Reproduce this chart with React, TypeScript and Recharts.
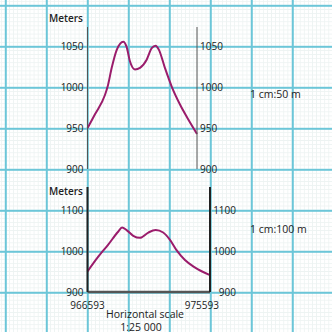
import React from "react";
import { LineChart, Line, XAxis, YAxis } from "recharts";

// Upper profile (vertical scale 1 cm : 50 m)
const upperDist = [0, 550, 1290, 1480, 1780, 2150, 2630, 2870, 3120, 3490, 3860, 4350, 4720, 5010, 5250, 5690, 6190, 6800, 7400, 8050];
const upperElev = [950, 967, 991, 1001, 1024, 1046, 1056, 1050, 1032, 1022, 1024, 1034, 1048, 1051, 1046, 1024, 1001, 979, 961, 943];
const upperTicks = [900, 950, 1000, 1050];

// Lower profile (vertical scale 1 cm : 100 m)
const lowerDist = [0, 790, 1510, 2250, 2540, 2870, 3360, 3860, 4470, 5010, 5560, 6060, 6540, 7160, 7880, 9000];
const lowerElev = [950, 986, 1015, 1047, 1057, 1051, 1037, 1032, 1045, 1051, 1045, 1027, 1002, 978, 960, 941];
const lowerTicks = [900, 1000, 1100];

const xTickValues = [0, 9000];
const xTickLabels = ["966593", "975593"];

const upperData = upperDist.map((x, i) => ({ x, m: upperElev[i] }));
const lowerData = lowerDist.map((x, i) => ({ x, m: lowerElev[i] }));

const FONT = "'Open Sans', 'Noto Sans', sans-serif";
const LINE = "#9a1c6b";
const tickStyle = { fontSize: 10, fill: "#222", fontFamily: FONT };

const BottomTick = (props: any) => {
  const { x, y, index } = props;
  const last = index === xTickValues.length - 1;
  return (
    <text
      x={x}
      y={y}
      dx={last ? 9 : 0}
      dy={8.5}
      textAnchor={last ? "end" : "middle"}
      fontSize={10}
      fill="#222"
      fontFamily={FONT}
    >
      {xTickLabels[index]}
    </text>
  );
};

export default function App() {
  const paper = {
    position: "absolute" as const,
    left: 0,
    top: 0,
    width: 332,
    height: 332,
    overflow: "hidden",
    backgroundColor: "#ffffff",
    backgroundImage: [
      "linear-gradient(to right, #6cc6d8 0, #6cc6d8 1.5px, transparent 1.5px)",
      "linear-gradient(to bottom, #6cc6d8 0, #6cc6d8 1.5px, transparent 1.5px)",
      "linear-gradient(to right, #edf3f2 0, #edf3f2 1px, transparent 1px)",
      "linear-gradient(to bottom, #edf3f2 0, #edf3f2 1px, transparent 1px)",
    ].join(","),
    backgroundSize: "41px 41px, 41px 41px, 4.1px 4.1px, 4.1px 4.1px",
    backgroundPosition: "4.8px 4.8px, 4.8px 4.8px, 5px 5px, 5px 5px",
  };

  return (
    <div style={paper}>
      <div style={{ position: "absolute", left: 0, top: 0 }}>
        <LineChart width={332} height={180} data={upperData} margin={{ top: 27, bottom: 11, left: 47.5, right: 95 }}>
          <XAxis
            dataKey="x"
            type="number"
            domain={[0, 8050]}
            tick={false}
            tickLine={false}
            height={0}
            axisLine={{ stroke: "#6a6a6a", strokeWidth: 1 }}
          />
          <YAxis
            yAxisId="l"
            type="number"
            domain={[900, 1074]}
            allowDataOverflow
            ticks={upperTicks}
            width={40}
            tickLine={false}
            tickSize={4}
            tickMargin={0}
            tick={tickStyle}
            axisLine={{ stroke: "#555", strokeWidth: 1 }}
          />
          <YAxis
            yAxisId="r"
            orientation="right"
            type="number"
            domain={[900, 1074]}
            allowDataOverflow
            ticks={upperTicks}
            width={40}
            tickLine={false}
            tickSize={3}
            tickMargin={0}
            tick={tickStyle}
            axisLine={{ stroke: "#555", strokeWidth: 1 }}
          />
          <Line yAxisId="l" type="monotone" dataKey="m" stroke={LINE} strokeWidth={2} dot={false} isAnimationActive={false} />
        </LineChart>
      </div>
      <div style={{ position: "absolute", left: 0, top: 180 }}>
        <LineChart width={332} height={152} data={lowerData} margin={{ top: 7, bottom: 10, left: 47.5, right: 82 }}>
          <XAxis
            dataKey="x"
            type="number"
            domain={[0, 9000]}
            ticks={xTickValues}
            tick={<BottomTick />}
            tickLine={false}
            height={30}
            axisLine={{ stroke: "#555", strokeWidth: 2.5 }}
          />
          <YAxis
            yAxisId="l"
            type="number"
            domain={[900, 1156]}
            allowDataOverflow
            ticks={lowerTicks}
            width={40}
            tickLine={false}
            tickSize={4}
            tickMargin={0}
            tick={tickStyle}
            axisLine={{ stroke: "#222", strokeWidth: 2 }}
          />
          <YAxis
            yAxisId="r"
            orientation="right"
            type="number"
            domain={[900, 1156]}
            allowDataOverflow
            ticks={lowerTicks}
            width={40}
            tickLine={false}
            tickSize={3}
            tickMargin={0}
            tick={{ ...tickStyle, textAnchor: "end", dx: 23 }}
            axisLine={{ stroke: "#222", strokeWidth: 2 }}
          />
          <Line yAxisId="l" type="monotone" dataKey="m" stroke={LINE} strokeWidth={2} dot={false} isAnimationActive={false} />
        </LineChart>
      </div>
      <svg width={332} height={332} style={{ position: "absolute", left: 0, top: 0, pointerEvents: "none" }}>
        <g fontFamily={FONT} fill="#222">
          <text x={83} y={17.5} textAnchor="end" dominantBaseline="central" fontSize={10} fontWeight={600}>Meters</text>
          <text x={83} y={191} textAnchor="end" dominantBaseline="central" fontSize={10} fontWeight={600}>Meters</text>
          <text x={250} y={94} textAnchor="start" dominantBaseline="central" fontSize={10.5}>1 cm:50 m</text>
          <text x={250} y={228.5} textAnchor="start" dominantBaseline="central" fontSize={10.5}>1 cm:100 m</text>
          <text x={145} y={313.5} textAnchor="middle" dominantBaseline="central" fontSize={10.5}>Horizontal scale</text>
          <text x={141} y={326.5} textAnchor="middle" dominantBaseline="central" fontSize={10.5}>1:25 000</text>
        </g>
      </svg>
    </div>
  );
}
